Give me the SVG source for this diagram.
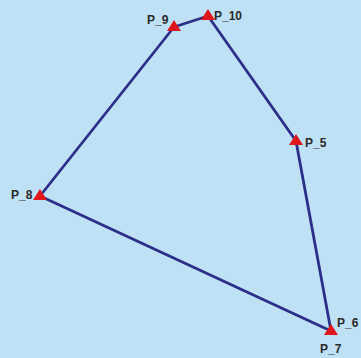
<svg xmlns="http://www.w3.org/2000/svg" width="361" height="358" viewBox="0 0 361 358">
<defs>
<style>
.lbl{font-family:"Liberation Sans",Arial,sans-serif;font-size:12px;font-weight:bold;fill:#2a2a2a}
.edge{stroke:#2b2f8a;stroke-width:2.8;fill:none;stroke-linejoin:round}
.mk{fill:#e0161b}
</style>
<polygon id="tri" points="0,-7 7,4 -7,4" class="mk"/>
</defs>
<rect width="361" height="358" fill="#bfe1f5"/>
<g id="connectors">
<polyline class="edge" points="174,27 208,16 296,141 331,331 40,196 174,27"/>
</g>
<g id="P_9"><use href="#tri" x="174" y="27"/><text class="lbl" x="147" y="24">P_9</text></g>
<g id="P_10"><use href="#tri" x="208" y="16"/><text class="lbl" x="214" y="20">P_10</text></g>
<g id="P_5"><use href="#tri" x="296" y="141"/><text class="lbl" x="305" y="147">P_5</text></g>
<g id="P_8"><use href="#tri" x="40" y="196"/><text class="lbl" x="11" y="199">P_8</text></g>
<g id="P_6"><use href="#tri" x="331" y="331"/><text class="lbl" x="337" y="327">P_6</text></g>
<g id="P_7"><text class="lbl" x="320" y="353">P_7</text></g>
</svg>
